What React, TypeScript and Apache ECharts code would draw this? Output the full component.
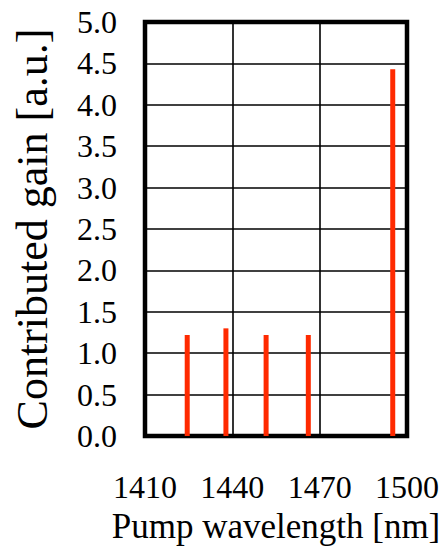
import React, { useEffect, useRef } from "react";
import * as echarts from "echarts";

const wavelengths = [1424.5, 1437.8, 1451.6, 1466.1, 1495.1];
const gains = [1.22, 1.3, 1.22, 1.22, 4.43];
const xTicks = [1410, 1440, 1470, 1500];
const yMin = 0;
const yMax = 5;
const yStep = 0.5;

export default function App() {
  const ref = useRef<HTMLDivElement>(null);
  useEffect(() => {
    if (!ref.current) return;
    const chart = echarts.init(ref.current, undefined, { renderer: "svg" });
    const font = "'Liberation Serif', 'Times New Roman', serif";
    const tick = { fontFamily: font, fontSize: 32, color: "#000" };
    chart.setOption({
      animation: false,
      backgroundColor: "#ffffff",
      textStyle: { fontFamily: font, color: "#000" },
      grid: {
        left: 145,
        right: 38,
        top: 22,
        bottom: 116,
        show: true,
        borderColor: "#000",
        borderWidth: 4.5,
        backgroundColor: "transparent",
      },
      xAxis: {
        type: "value",
        min: xTicks[0],
        max: xTicks[xTicks.length - 1],
        interval: 30,
        name: "Pump wavelength [nm]",
        nameLocation: "middle",
        nameGap: 73,
        nameTextStyle: { fontFamily: font, fontSize: 35, color: "#000" },
        axisLine: { show: false },
        axisTick: { show: false },
        axisLabel: {
          ...tick,
          margin: 35,
          formatter: (v: number) => "{t|" + String(v) + "}",
          rich: { t: tick },
        },
        splitLine: { show: true, lineStyle: { color: "#000", width: 1.6 } },
      },
      yAxis: {
        type: "value",
        min: yMin,
        max: yMax,
        interval: yStep,
        name: "Contributed gain [a.u.]",
        nameLocation: "middle",
        nameGap: 91,
        nameTextStyle: { fontFamily: font, fontSize: 44, color: "#000" },
        axisLine: { show: false },
        axisTick: { show: false },
        axisLabel: {
          ...tick,
          margin: 28,
          formatter: (v: number) => "{t|" + v.toFixed(1) + "}",
          rich: { t: tick },
        },
        splitLine: { show: true, lineStyle: { color: "#000", width: 1.6 } },
      },
      series: [
        {
          type: "bar",
          data: wavelengths.map((w, i) => [w, gains[i]]),
          barWidth: 5,
          itemStyle: { color: "#ff2a00" },
          z: 10,
        },
      ],
    });
    return () => chart.dispose();
  }, []);
  return <div ref={ref} style={{ width: 445, height: 552, position: "absolute", left: 0, top: 0 }} />;
}
